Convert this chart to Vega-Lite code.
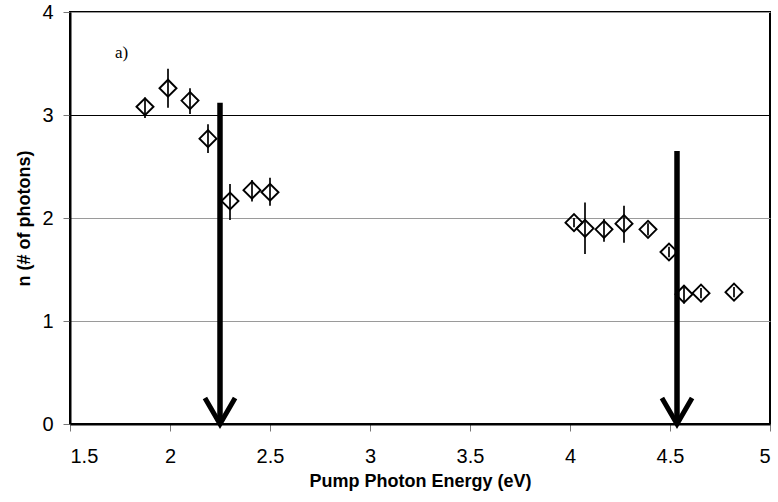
{
  "$schema": "https://vega.github.io/schema/vega-lite/v6.json",
  "width": 700,
  "height": 412,
  "autosize": {"type": "none"},
  "padding": {"left": 70, "top": 12, "right": 8, "bottom": 78},
  "background": "white",
  "config": {
    "font": "Liberation Sans",
    "view": {"stroke": "black", "strokeWidth": 2},
    "axis": {"labelFont": "Liberation Sans", "titleFont": "Liberation Sans", "labelColor": "black", "titleColor": "black"}
  },
  "datasets": {
    "pts": [
      {"E": 1.875, "n": 3.08, "lo": 2.97, "hi": 3.17},
      {"E": 1.99, "n": 3.26, "lo": 3.07, "hi": 3.45},
      {"E": 2.10, "n": 3.14, "lo": 3.01, "hi": 3.26},
      {"E": 2.19, "n": 2.77, "lo": 2.63, "hi": 2.91},
      {"E": 2.30, "n": 2.165, "lo": 1.98, "hi": 2.33},
      {"E": 2.41, "n": 2.27, "lo": 2.16, "hi": 2.37},
      {"E": 2.50, "n": 2.25, "lo": 2.12, "hi": 2.39},
      {"E": 4.02, "n": 1.955, "lo": 1.91, "hi": 2.0},
      {"E": 4.075, "n": 1.90, "lo": 1.65, "hi": 2.15},
      {"E": 4.17, "n": 1.89, "lo": 1.77, "hi": 1.99},
      {"E": 4.27, "n": 1.945, "lo": 1.76, "hi": 2.12},
      {"E": 4.39, "n": 1.89, "lo": 1.83, "hi": 1.95},
      {"E": 4.495, "n": 1.67, "lo": 1.62, "hi": 1.72},
      {"E": 4.57, "n": 1.26, "lo": 1.17, "hi": 1.35},
      {"E": 4.655, "n": 1.27, "lo": 1.22, "hi": 1.32},
      {"E": 4.82, "n": 1.28, "lo": 1.23, "hi": 1.33}
    ],
    "arrows": [
      {"E": 2.25, "top": 3.12, "base": 0},
      {"E": 4.535, "top": 2.65, "base": 0}
    ],
    "labels": [
      {"E": 1.725, "n": 3.60, "label": "a)"}
    ]
  },
  "encoding": {
    "x": {
      "field": "E", "type": "quantitative",
      "scale": {"domain": [1.5, 5], "nice": false, "zero": false},
      "axis": {
        "title": "Pump Photon Energy (eV)",
        "values": [1.5, 2, 2.5, 3, 3.5, 4, 4.5, 5],
        "format": "~g",
        "grid": false,
        "domain": true, "domainColor": "black", "domainWidth": 2,
        "ticks": true, "tickColor": "#777", "tickSize": 7,
        "labelFontSize": 20, "labelPadding": 15,
        "titleFontSize": 18, "titleFontWeight": "bold", "titlePadding": 6
      }
    }
  },
  "layer": [
    {
      "data": {"name": "pts"},
      "mark": {"type": "rule", "color": "black", "strokeWidth": 1.7},
      "encoding": {
        "y": {
          "field": "lo", "type": "quantitative",
          "scale": {"domain": [0, 4], "nice": false},
          "axis": {
            "title": "n (# of photons)",
            "values": [0, 1, 2, 3, 4],
            "format": "~g",
            "grid": true,
            "gridColor": {"condition": {"test": "datum.value === 3", "value": "black"}, "value": "#9a9a9a"},
            "gridWidth": 1.2,
            "domain": true, "domainColor": "black", "domainWidth": 2,
            "ticks": true, "tickColor": "#777", "tickSize": 7,
            "labelFontSize": 20, "labelPadding": 10,
            "titleFontSize": 18, "titleFontWeight": "bold", "titlePadding": 8
          }
        },
        "y2": {"field": "hi"}
      }
    },
    {
      "data": {"name": "pts"},
      "mark": {"type": "point", "shape": "diamond", "filled": false, "stroke": "black", "strokeWidth": 1.9, "size": 290, "opacity": 1},
      "encoding": {
        "y": {"field": "n", "type": "quantitative"}
      }
    },
    {
      "data": {"name": "arrows"},
      "mark": {"type": "rule", "color": "black", "strokeWidth": 5.5},
      "encoding": {
        "y": {"field": "top", "type": "quantitative"},
        "y2": {"field": "base"}
      }
    },
    {
      "data": {"name": "arrows"},
      "mark": {"type": "point", "shape": "M -0.58 -1 L 0 0 L 0.58 -1", "filled": false, "stroke": "black", "strokeWidth": 5, "size": 2700, "opacity": 1, "strokeJoin": "miter"},
      "encoding": {
        "y": {"field": "base", "type": "quantitative"}
      }
    },
    {
      "data": {"name": "labels"},
      "mark": {"type": "text", "font": "Liberation Serif", "fontSize": 17, "align": "left", "baseline": "middle", "color": "black"},
      "encoding": {
        "y": {"field": "n", "type": "quantitative"},
        "text": {"field": "label"}
      }
    }
  ]
}
